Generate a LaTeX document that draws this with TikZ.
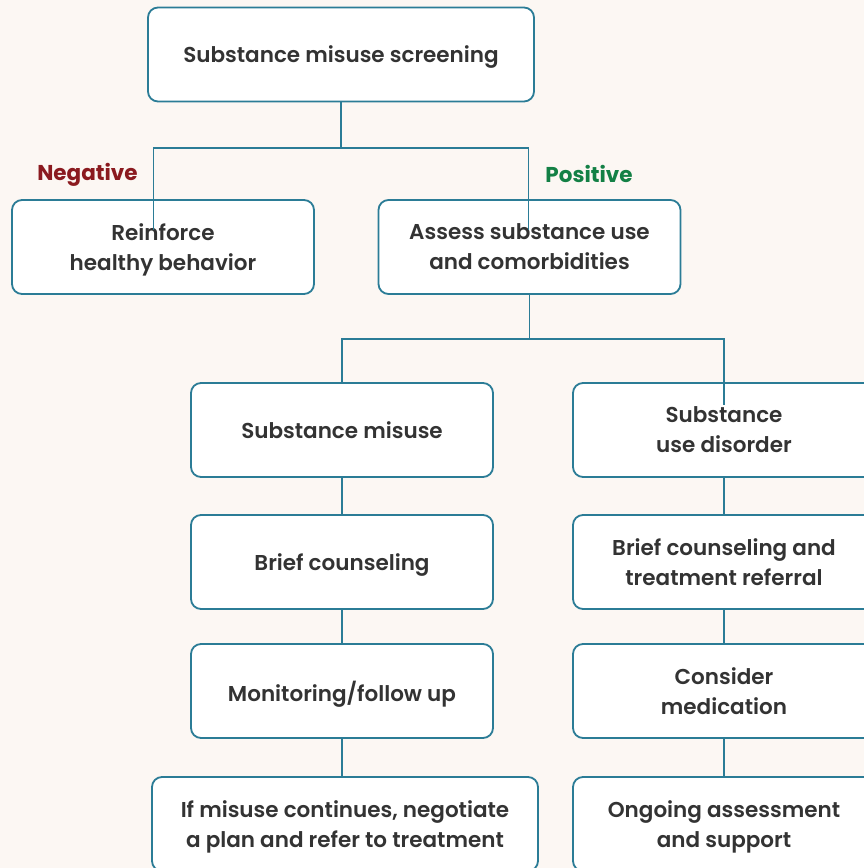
\documentclass[tikz,border=0pt]{standalone}
\usepackage{fontspec}
\setmainfont{Poppins}[UprightFont=* SemiBold, BoldFont=* Bold]
\definecolor{paper}{HTML}{FCF7F3}
\definecolor{boxline}{HTML}{2B7C96}
\definecolor{txt}{HTML}{333333}
\definecolor{negred}{HTML}{8B1A1F}
\definecolor{posgreen}{HTML}{138045}

\begin{document}
\begin{tikzpicture}[x=1pt,y=-1pt,
	box/.style={draw=boxline, line width=1.8pt, rounded corners=10pt, fill=white, text=txt,
		minimum width=302pt, minimum height=94pt, align=center, inner sep=0pt, text depth=0pt,
		font=\fontsize{21.5}{30}\selectfont},
	link/.style={draw=boxline, line width=1.5pt},
	tag/.style={text depth=0pt, font=\fontsize{21.5}{24}\selectfont\bfseries}]
	\fill[paper] (0,0) rectangle (864,868);
	\useasboundingbox (0,0) rectangle (864,868);
	\clip (0,0) rectangle (864,868);

	\node (screen) [box, minimum width=386pt] at (341,54.5) {Substance misuse screening};
	\node (reinf) [box] at (163,247) {Reinforce\\healthy behavior};
	\node (assess) [box] at (529.5,247) {Assess substance use\\and comorbidities};
	\node [tag, text=negred] at (87.5,172) {Negative};
	\node [tag, text=posgreen] at (589,174) {Positive};

	\node (misuse) [box] at (342,430) {Substance misuse};
	\node (brief) [box] at (342,562) {Brief counseling};
	\node (monitor) [box] at (342,691) {Monitoring/follow up};
	\node (negot) [box, minimum width=386pt] at (345,824) {If misuse continues, negotiate\\a plan and refer to treatment};

	\node (sud) [box] at (724,430) {Substance\\use disorder};
	\node (refer) [box] at (724,562) {Brief counseling and\\treatment referral};
	\node (medic) [box] at (724,691) {Consider\\medication};
	\node (ongoing) [box] at (724,824) {Ongoing assessment\\and support};

	% forks
	\coordinate (fork1) at (341,148);
	\coordinate (negend) at (153.5,230);
	\coordinate (posend) at (528.6,230);
	\draw[link] (screen.south) -- (fork1);
	\draw[link] (negend) -- (negend |- fork1) -- (posend |- fork1) -- (posend);

	\coordinate (fork2) at (529.5,339);
	\coordinate (sudend) at (724,405);
	\draw[link] (assess.south) -- (fork2);
	\draw[link] (misuse.north) -- (misuse.north |- fork2) -- (sudend |- fork2) -- (sudend);

	% columns
	\draw[link] (misuse) -- (brief);
	\draw[link] (brief) -- (monitor);
	\draw[link] (monitor.south) -- (monitor.south |- negot.north);
	\draw[link] (sud) -- (refer);
	\draw[link] (refer) -- (medic);
	\draw[link] (medic) -- (ongoing);
\end{tikzpicture}
\end{document}
